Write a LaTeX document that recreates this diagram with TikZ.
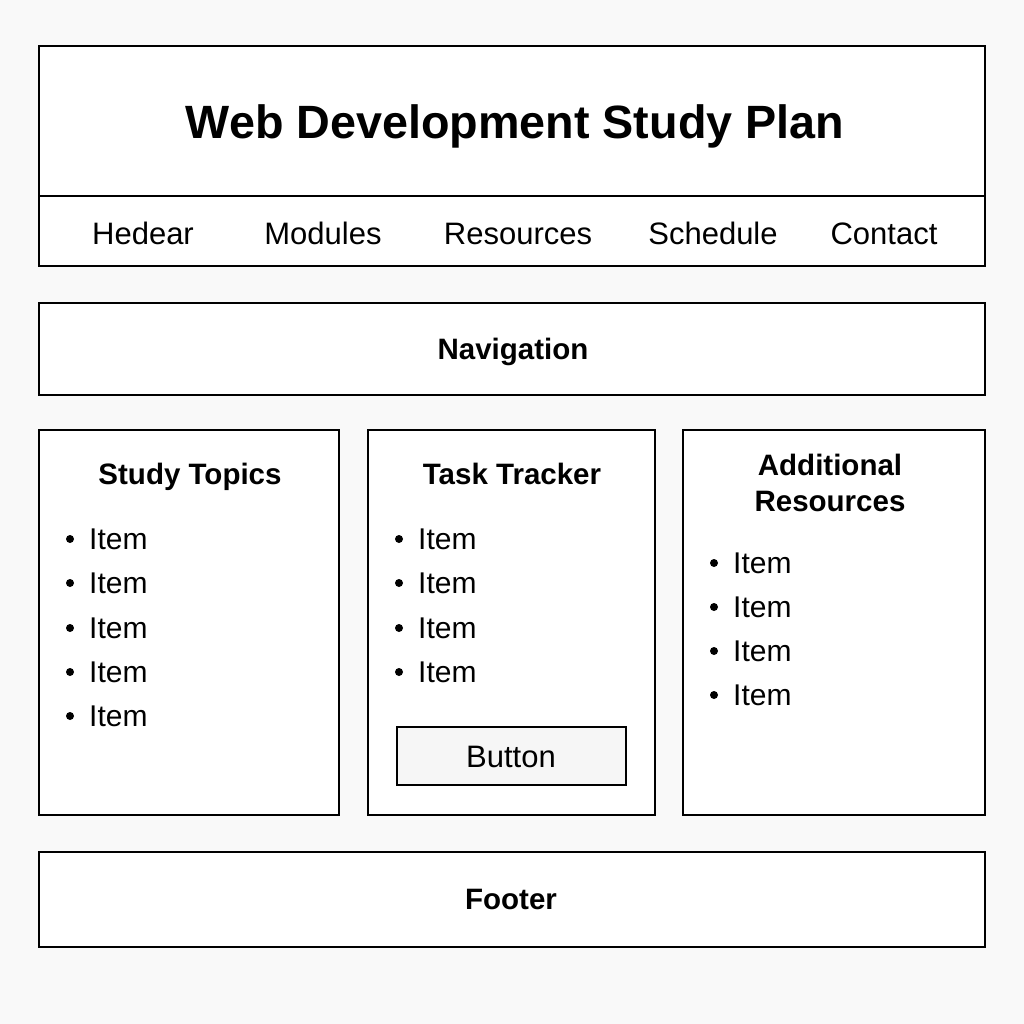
\documentclass[tikz,border=0pt]{standalone}
\usepackage{fontspec}
\setmainfont{Liberation Sans}
\begin{document}
\begin{tikzpicture}[x=1pt,y=-1pt,
  panel/.style={draw=black, line width=2.6pt, fill=white},
  txt/.style={inner sep=0pt, text depth=0pt},
  title/.style={txt, text height=33.6pt, font=\bfseries\fontsize{46.7}{50}\selectfont},
  menu/.style={txt, text height=22.3pt, font=\fontsize{31}{34}\selectfont},
  heading/.style={txt, text height=21.2pt, font=\bfseries\fontsize{29.5}{34}\selectfont},
  item/.style={txt, text height=21.6pt, font=\fontsize{30}{32}\selectfont, anchor=west},
  dot/.style={circle, fill=black, inner sep=0pt, minimum size=8pt}]
  % page
  \fill[fill={rgb,255:red,249;green,249;blue,249}] (0,0) rectangle (1024,1024);
  \useasboundingbox (0,0) rectangle (1024,1024);

  % header with menu bar
  \draw[panel] (39,46) rectangle (985,266);
  \draw[line width=2.6pt] (39,196) -- (985,196);
  \node[title] (ttl) at (515,122) {Web Development Study Plan};
  \node[menu] (m1) at (143,233) {Hedear};
  \node[menu] (m2) at (323,233) {Modules};
  \node[menu] (m3) at (518,233) {Resources};
  \node[menu] (m4) at (713,233) {Schedule};
  \node[menu] (m5) at (884,233) {Contact};

  % navigation bar
  \draw[panel] (39,303) rectangle (985,395);
  \node[heading] (nav) at (513,349) {Navigation};

  % three columns
  \draw[panel] (39,430) rectangle (339,815);
  \draw[panel] (368,430) rectangle (655,815);
  \draw[panel] (683,430) rectangle (985,815);

  \node[heading] (h1) at (190,474) {Study Topics};
  \foreach \y [count=\i] in {539,583,628,672,716} {
    \node[dot] (b1\i) at (70,\y) {};
    \node[item] (t1\i) at (89,\y) {Item};
  }

  \node[heading] (h2) at (512,474) {Task Tracker};
  \foreach \y [count=\i] in {539,583,628,672} {
    \node[dot] (b2\i) at (399,\y) {};
    \node[item] (t2\i) at (418,\y) {Item};
  }
  \draw[draw=black, line width=2.6pt, fill={rgb,255:red,246;green,246;blue,246}] (397,727) rectangle (626,785);
  \node[menu] (btn) at (511,756) {Button};

  \node[heading] (h3a) at (830,465) {Additional};
  \node[heading] (h3b) at (830,501) {Resources};
  \foreach \y [count=\i] in {563,607,651,695} {
    \node[dot] (b3\i) at (714,\y) {};
    \node[item] (t3\i) at (733,\y) {Item};
  }

  % footer
  \draw[panel] (39,852) rectangle (985,947);
  \node[heading] (ftr) at (511,899) {Footer};
\end{tikzpicture}
\end{document}
